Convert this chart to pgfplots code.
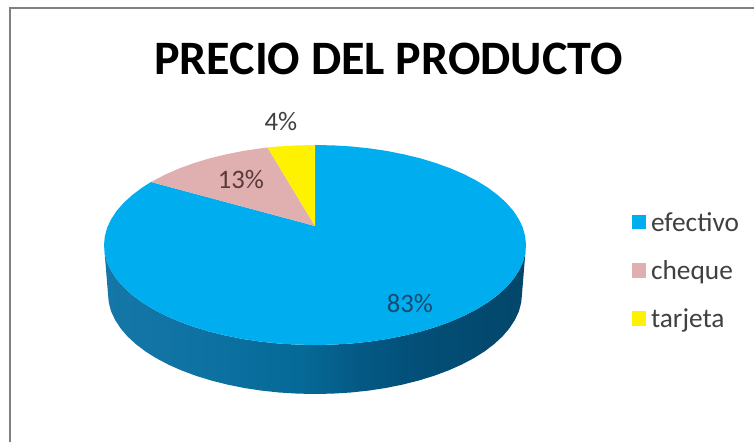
\documentclass[border=0pt]{standalone}
\usepackage{pgfplots}
\pgfplotsset{compat=1.18}
\usepackage{fontspec}
\setmainfont{Carlito}
\definecolor{pieblue}{HTML}{00AEEF}
\definecolor{piepink}{HTML}{E0AFAF}
\definecolor{pieyellow}{HTML}{FFF200}
\definecolor{sa}{HTML}{1577A8}
\definecolor{sb}{HTML}{0E72A3}
\definecolor{sc}{HTML}{066A98}
\definecolor{sd}{HTML}{045A85}
\definecolor{se}{HTML}{034F78}
\definecolor{sf}{HTML}{03466A}
\pgfdeclarehorizontalshading{sideblue}{100bp}{
 color(0bp)=(sa);
 color(25bp)=(sa);
 color(36bp)=(sb);
 color(48bp)=(sc);
 color(55bp)=(sd);
 color(62bp)=(se);
 color(75bp)=(sf);
 color(100bp)=(sf)}
\begin{document}
\begin{tikzpicture}
\useasboundingbox (0,0) rectangle (565.5pt,331.5pt);
\begin{axis}[
  scale only axis, width=565.5pt, height=331.5pt,
  xmin=0, xmax=754, ymin=0, ymax=442, y dir=reverse,
  axis lines=none,
  legend cell align=left,
  legend image code/.code={\fill[#1] (0pt,-5.5pt) rectangle (10.5pt,5.5pt);},
  legend style={draw=none, fill=none, at={(axis cs:632,211)}, anchor=north west,
    font=\fontsize{20.5}{24}\selectfont\color[HTML]{404040}, row sep=20pt,
    inner sep=0pt, nodes={inner xsep=3.6pt, inner ysep=1pt, text depth=0pt}},
]
% pie side
\addplot[forget plot, draw=none, shading=sideblue] coordinates {
(104,245)(104.8,253.7)(107.2,262.4)(111.2,270.9)(116.7,279.2)(123.8,287.3)(132.3,295)(142.2,302.4)(153.4,309.3)(165.8,315.7)(179.4,321.6)(194,326.9)(209.5,331.6)(225.8,335.6)(242.8,339)(260.4,341.6)(278.4,343.5)(296.6,344.6)(315,345)
(333.4,344.6)(351.6,343.5)(369.6,341.6)(387.2,339)(404.2,335.6)(420.5,331.6)(436,326.9)(450.6,321.6)(464.2,315.7)(476.6,309.3)(487.8,302.4)(497.7,295)(506.2,287.3)(513.3,279.2)(518.8,270.9)(522.8,262.4)(525.2,253.7)(526,245)
(522,294)(521.2,302.7)(518.9,311.4)(514.9,319.9)(509.5,328.2)(502.6,336.3)(494.3,344)(484.6,351.4)(473.6,358.3)(461.4,364.7)(448.1,370.6)(433.7,375.9)(418.5,380.6)(402.5,384.6)(385.8,388)(368.6,390.6)(350.9,392.5)(333,393.6)(315,394)
(297,393.6)(279.1,392.5)(261.4,390.6)(244.2,388)(227.5,384.6)(211.5,380.6)(196.3,375.9)(181.9,370.6)(168.6,364.7)(156.4,358.3)(145.4,351.4)(135.7,344)(127.4,336.3)(120.5,328.2)(115.1,319.9)(111.1,311.4)(108.8,302.7)(108,294)
} -- cycle;
% efectivo 83
\addplot[draw=none, fill=pieblue] coordinates {
(315,226)(315,145)(333.4,145.4)(351.6,146.5)(369.6,148.4)(387.2,151)(404.2,154.4)(420.5,158.4)(436,163.1)(450.6,168.4)(464.2,174.3)(476.6,180.7)(487.8,187.6)(497.7,195)(506.2,202.7)(513.3,210.8)(518.8,219.1)(522.8,227.6)(525.2,236.3)(526,245)
(525.2,253.7)(522.8,262.4)(518.8,270.9)(513.3,279.2)(506.2,287.3)(497.7,295)(487.8,302.4)(476.6,309.3)(464.2,315.7)(450.6,321.6)(436,326.9)(420.5,331.6)(404.2,335.6)(387.2,339)(369.6,341.6)(351.6,343.5)(333.4,344.6)(315,345)
(296.6,344.6)(278.4,343.5)(260.4,341.6)(242.8,339)(225.8,335.6)(209.5,331.6)(194,326.9)(179.4,321.6)(165.8,315.7)(153.4,309.3)(142.2,302.4)(132.3,295)(123.8,287.3)(116.7,279.2)(111.2,270.9)(107.2,262.4)(104.8,253.7)(104,245)
(104.8,236.3)(107.2,227.6)(111.2,219.1)(116.7,210.8)(123.8,202.7)(132.3,195)(142.2,187.6)(151,182)
} -- cycle;
\addlegendentry{efectivo}
% cheque 13
\addplot[draw=none, fill=piepink] coordinates {
(315,226)(151,182)(153.4,180.7)(165.8,174.3)(179.4,168.4)(194,163.1)(209.5,158.4)(225.8,154.4)(242.8,151)(260.4,148.4)(267.5,147.5)
} -- cycle;
\addlegendentry{cheque}
% tarjeta 4
\addplot[draw=none, fill=pieyellow] coordinates {
(315,226)(267.5,147.5)(278.4,146.5)(296.6,145.4)(315,145)
} -- cycle;
\addlegendentry{tarjeta}
\node[font=\fontsize{20}{24}\selectfont] at (axis cs:410,304) {\textcolor[HTML]{1A4A70}{83\%}};
\node[font=\fontsize{20}{24}\selectfont] at (axis cs:241,180) {\textcolor[HTML]{5A3A3A}{13\%}};
\node[font=\fontsize{20}{24}\selectfont] at (axis cs:281,122) {\textcolor[HTML]{404040}{4\%}};
\node[font=\bfseries\fontsize{36}{40}\selectfont] at (axis cs:388.5,59) {PRECIO DEL PRODUCTO};
\draw[color=black!50, line width=1.5pt] (axis cs:10,442) -- (axis cs:10,8) -- (axis cs:754,8);
\end{axis}
\end{tikzpicture}
\end{document}
